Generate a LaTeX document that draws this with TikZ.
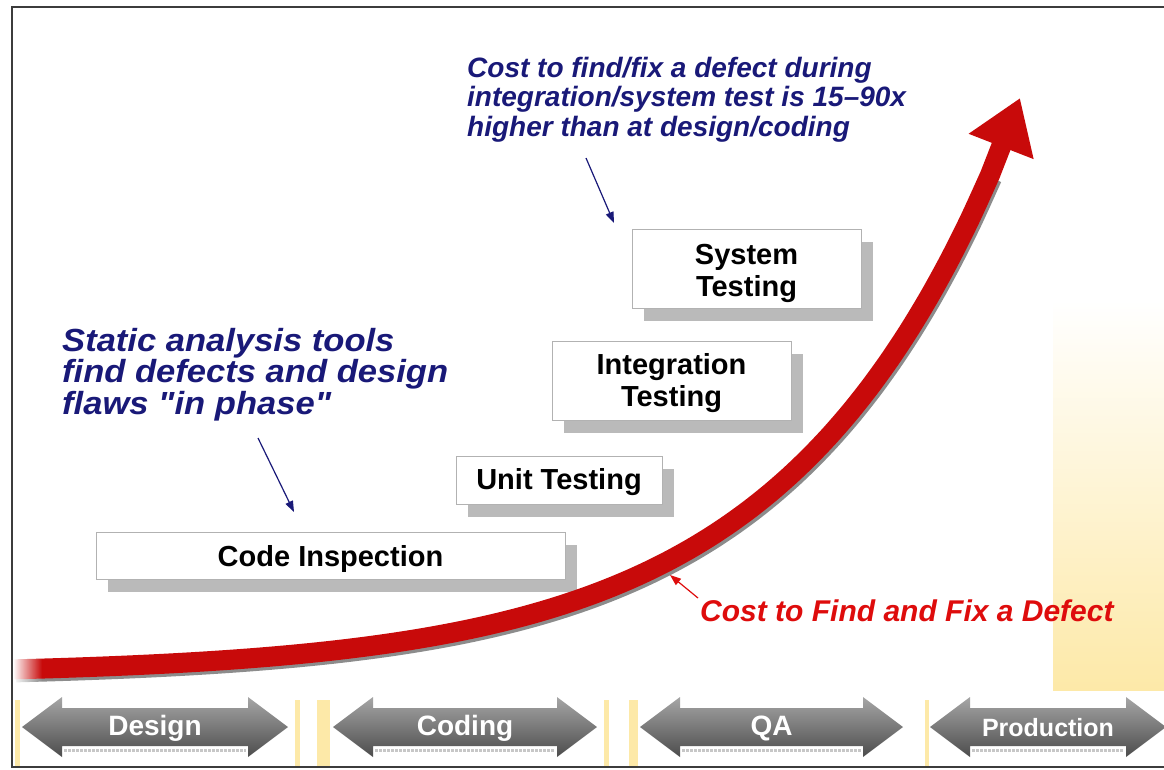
\documentclass[tikz,border=0pt]{standalone}
\usepackage{fontspec}
\setmainfont{Liberation Sans}
\newfontfamily\widesans[FakeStretch=1.08]{Liberation Sans}
\usetikzlibrary{arrows.meta}
\usetikzlibrary{shadows}
\usetikzlibrary{fadings}
\definecolor{navyblue}{RGB}{25,25,120}
\definecolor{arrowred}{RGB}{200,10,10}
\definecolor{labelred}{RGB}{222,12,12}
\definecolor{paleyellow}{RGB}{253,233,168}
\definecolor{framegray}{RGB}{60,60,60}
\tikzfading[name=fade right, left color=transparent!0, right color=transparent!100]

\begin{document}
\begin{tikzpicture}[x=1pt, y=-1pt,
  stagebox/.style={draw=black!30, fill=white, inner sep=0pt, align=center,
    font=\fontsize{29}{32}\selectfont\bfseries,
    drop shadow={shadow xshift=12pt, shadow yshift=-13pt, fill=black!27, opacity=1}},
  phase/.style={text=white, inner sep=0pt},
  note/.style={text=navyblue, align=left, inner sep=0pt, anchor=north west},
  pointer/.style={-{Triangle[length=11pt,width=8pt]}, line width=1.2pt}]
  \useasboundingbox (0,0) rectangle (1164,769);

  % yellow panel and phase dividers
  \shade[top color=white, bottom color=paleyellow] (1053,300) rectangle (1164,690);
  \foreach \xa/\xb in {15/20, 295/300, 317/330, 604/609, 629/638, 925/929}
    \fill[paleyellow] (\xa,700) rectangle (\xb,768);

  % frame
  \draw[framegray, line width=1.5pt] (1164,7) -- (12,7) -- (12,767) -- (1164,767);

  % phase arrows
  \foreach \xl/\xr/\lbl/\nm/\fs in {22/288/Design/design/28, 333/597/Coding/coding/28,
      640/903/QA/qa/28, 930/1166/Production/prod/25} {
    \shade[top color=black!35, middle color=black!64, bottom color=black!70]
      (\xl,727) -- (\xl+40,697) -- (\xl+40,708) -- (\xr-40,708) -- (\xr-40,697)
      -- (\xr,727) -- (\xr-40,757) -- (\xr-40,746) -- (\xl+40,746) -- (\xl+40,757) -- cycle;
    \draw[black!22, densely dotted, line width=3pt] (\xl+42,750) -- (\xr-42,750);
    \node[phase, font=\fontsize{\fs}{30}\selectfont\bfseries] (\nm) at ({(\xl+\xr)/2},728) {\lbl};
  }

  % test stages
  \node[stagebox, minimum width=469pt, minimum height=47pt] (codeinsp) at (330.5,555.5)
    {\raisebox{-3pt}[\height][\depth]{Code Inspection}};
  \node[stagebox, minimum width=206pt, minimum height=48pt] (unittest) at (559,480)
    {\raisebox{-2pt}[\height][\depth]{Unit Testing}};
  \node[stagebox, minimum width=239pt, minimum height=79pt] (inttest) at (671.5,380.5)
    {\raisebox{-3pt}[\height][\depth]{Integration}\\\raisebox{-3pt}[\height][\depth]{Testing}};
  \node[stagebox, minimum width=229pt, minimum height=79pt] (systest) at (746.5,268.5)
    {\raisebox{-5pt}[\height][\depth]{System}\\\raisebox{-5pt}[\height][\depth]{Testing}};

  % cost curve
  \begin{scope}[xshift=2pt, yshift=-3pt]
    \draw[black, opacity=0.45, line width=20pt]
      plot[domain=14:990, samples=50, smooth] (\x, {675 - 5.3*exp(0.0046*\x)});
  \end{scope}
  \draw[arrowred, line width=20pt, -{Triangle[length=52pt,width=66pt]}]
    plot[domain=14:990, samples=50, smooth] (\x, {675 - 5.3*exp(0.0046*\x)}) -- (1020,98);
  \fill[white, path fading=fade right] (13,650) rectangle (42,690);

  % annotations
  \node[note, font=\fontsize{28}{29.5}\selectfont\bfseries\itshape] (costnote) at (467,57)
    {Cost to find/fix a defect during\\integration/system test is 15--90x\\higher than at design/coding};
  \node[note, font=\widesans\fontsize{32}{31.5}\selectfont\bfseries\itshape] (staticnote) at (62,328)
    {Static analysis tools\\find defects and design\\flaws \symbol{34}in phase\symbol{34}};
  \node[text=labelred, inner sep=0pt, anchor=base west, font=\fontsize{30}{32}\selectfont\bfseries\itshape]
    (curvenote) at (700,621) {Cost to Find and Fix a Defect};

  \coordinate (costtail) at (586,158);
  \coordinate (costtip) at (614,223);
  \coordinate (statictail) at (258,438);
  \coordinate (statictip) at (294,512);
  \coordinate (curvetail) at (698,598);
  \coordinate (curvetip) at (670,575);
  \draw[pointer, navyblue] (costtail) -- (costtip);
  \draw[pointer, navyblue] (statictail) -- (statictip);
  \draw[pointer, labelred] (curvetail) -- (curvetip);
\end{tikzpicture}
\end{document}
